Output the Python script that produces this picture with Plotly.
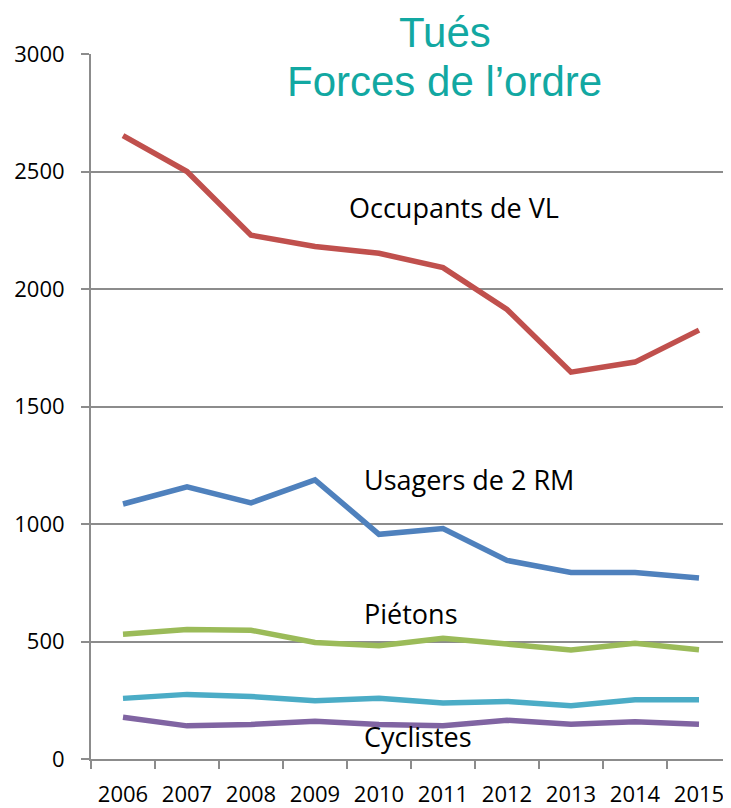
import plotly.graph_objects as go

years = ["2006", "2007", "2008", "2009", "2010", "2011", "2012", "2013", "2014", "2015"]
occupants_vl = [2653, 2500, 2229, 2181, 2152, 2091, 1913, 1646, 1689, 1825]
usagers_2rm = [1085, 1158, 1090, 1188, 956, 981, 845, 794, 794, 770]
pietons = [531, 551, 548, 496, 482, 514, 489, 464, 492, 465]
autres = [258, 275, 266, 248, 259, 238, 245, 227, 252, 252]
cyclistes = [178, 141, 147, 161, 147, 142, 165, 148, 159, 148]
y_ticks = [0, 500, 1000, 1500, 2000, 2500, 3000]

series = [
    ("Occupants de VL", occupants_vl, "#C0504D"),
    ("Usagers de 2 RM", usagers_2rm, "#4F81BD"),
    ("Piétons", pietons, "#9BBB59"),
    ("Autres", autres, "#4BACC6"),
    ("Cyclistes", cyclistes, "#8064A2"),
]

fig = go.Figure()
for name, vals, col in series:
    fig.add_trace(go.Scatter(x=years, y=vals, mode="lines", name=name,
                             line=dict(color=col, width=5.5)))

label_font = dict(family="Open Sans", size=27, color="#000000")
labels = [
    ("Occupants de VL", 3.50, 2345),
    ("Usagers de 2 RM", 3.73, 1191),
    ("Piétons", 3.73, 621),
    ("Cyclistes", 3.73, 94),
]
for txt, xx, yy in labels:
    fig.add_annotation(x=xx, y=yy, xref="x", yref="y", text=txt, showarrow=False,
                       xanchor="left", yanchor="middle", font=label_font)

title_font = dict(family="Liberation Sans", size=42, color="#12A8A2")
fig.add_annotation(x=0.553, y=1.031, xref="paper", yref="paper", text="Tués",
                   showarrow=False, xanchor="center", yanchor="middle", font=title_font)
fig.add_annotation(x=0.553, y=0.9606, xref="paper", yref="paper", text="Forces de l’ordre",
                   showarrow=False, xanchor="center", yanchor="middle", font=title_font)

grid_col = "#8C8C8C"
fig.update_layout(
    width=723, height=800,
    margin=dict(l=83, r=0, t=46, b=44),
    paper_bgcolor="white", plot_bgcolor="white",
    showlegend=False,
    font=dict(family="Open Sans", size=22, color="#000000"),
)
fig.update_xaxes(type="category", range=[-0.5, 9.5], showgrid=False,
                 showline=True, linecolor=grid_col, linewidth=2,
                 ticks="outside", tickson="boundaries", ticklen=8, tickwidth=2,
                 tickcolor=grid_col, tickfont=dict(family="Open Sans", size=22, color="#000"),
                 ticklabelstandoff=15, fixedrange=True)
fig.update_yaxes(range=[0, 3000], tickvals=y_ticks, showgrid=True, gridcolor=grid_col,
                 gridwidth=2, zeroline=False, showline=True, linecolor=grid_col, linewidth=2,
                 ticks="outside", ticklen=8, tickwidth=2, tickcolor=grid_col,
                 tickfont=dict(family="Open Sans", size=22, color="#000"),
                 ticklabelstandoff=12, fixedrange=True)

fig.write_html("out.html")
